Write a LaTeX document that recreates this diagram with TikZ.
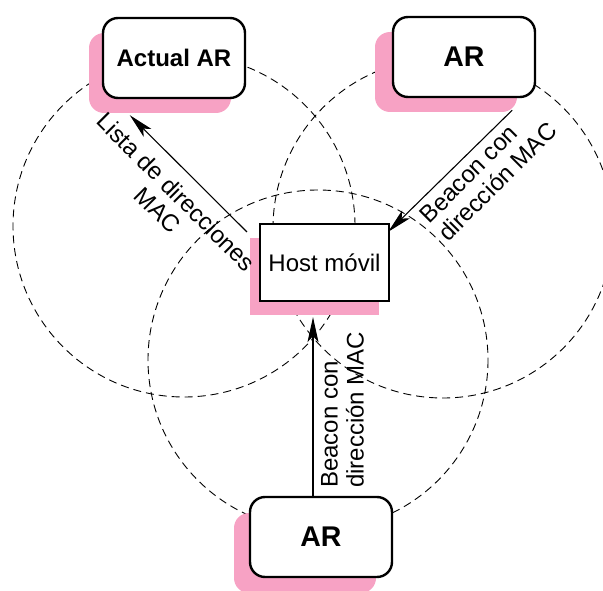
\documentclass[tikz,border=0pt]{standalone}
\usepackage{fontspec}
\setmainfont{Liberation Sans}
\usetikzlibrary{arrows.meta,calc,shadows}
\definecolor{shadowpink}{RGB}{247,162,196}

\begin{document}
\begin{tikzpicture}[x=1pt,y=-1pt,
  coverage/.style={draw, line width=0.9pt, dash pattern=on 8pt off 5pt},
  pinkshadow/.style 2 args={drop shadow={shadow xshift=#1pt, shadow yshift=#2pt,
      fill=shadowpink, opacity=1}},
  arbox/.style={draw, line width=2.4pt, fill=white, rounded corners=15pt,
      minimum width=142pt, minimum height=80pt, inner sep=0pt,
      font=\fontsize{28.5}{30}\selectfont\bfseries},
  hostbox/.style={draw, line width=2.2pt, fill=white,
      minimum width=129pt, minimum height=77pt, inner sep=0pt,
      font=\fontsize{24}{26}\selectfont},
  msg/.style={draw, line width=1.1pt, -{Stealth[length=25pt,width=11pt,inset=6pt]}},
  lbl/.style={inner sep=0pt, font=\fontsize{24}{26}\selectfont}
]
\useasboundingbox (0,0) rectangle (603,591);

% coverage areas of the three access routers
\draw[coverage] (184,226) circle[radius=171];
\draw[coverage] (443,228) circle[radius=170];
\draw[coverage] (318,360) circle[radius=170];

% access routers and the mobile host
\node[arbox, pinkshadow={-14}{-15}, font=\fontsize{24}{26}\selectfont\bfseries]
  (actual) at (174,58) {Actual AR};
\node[arbox, pinkshadow={-18}{-15}] (artop) at (464,57) {AR};
\node[arbox, pinkshadow={-16}{-16}] (arbot) at (321,537) {AR};
\node[hostbox, pinkshadow={-10}{-14}] (host) at (324.5,262.5) {Host móvil};

% message endpoints
\coordinate (h1) at ($(host.north west)+(-12,9)$);
\coordinate (a1) at ($(actual.south west)+(28,16)$);
\coordinate (t1) at ($(artop.south east)+(-24,12)$);
\coordinate (h2) at ($(host.north east)+(-2,9)$);
\coordinate (b1) at ($(arbot.north)+(-8,0)$);
\coordinate (h3) at ($(host.south)+(-11.5,15)$);

% messages
\draw[msg] (h1) -- (a1);
\draw[msg] (t1) -- (h2);
\draw[msg] (b1) -- (h3);

% message labels
\node[lbl, align=center, rotate=-45] (lista) at (167,201) {Lista de direcciones\\MAC};
\node[lbl, align=left, rotate=45, anchor=west] (beacontop) at (433,228)
  {Beacon con\\dirección MAC};
\node[lbl, align=left, rotate=90, anchor=west] (beaconbot) at (342.5,488)
  {Beacon con\\dirección MAC};
\end{tikzpicture}
\end{document}
